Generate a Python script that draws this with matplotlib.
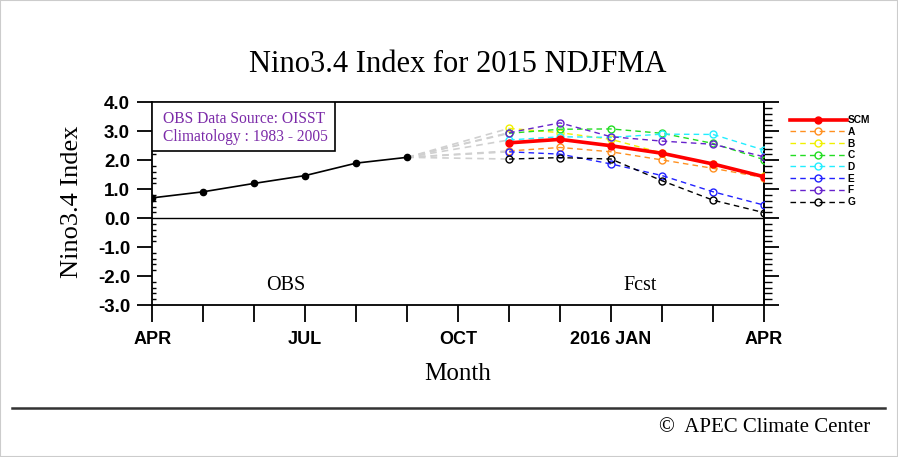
import matplotlib
matplotlib.use("Agg")
import matplotlib.pyplot as plt
from matplotlib.lines import Line2D
from matplotlib.patches import Rectangle
from matplotlib.ticker import MultipleLocator

# month index 0 = APR 2015 ... 12 = APR 2016
obs_months = [0, 1, 2, 3, 4, 5]
obs_values = [0.70, 0.91, 1.20, 1.47, 1.90, 2.10]

fcst_months = [7, 8, 9, 10, 11, 12]
models = ["SCM", "A", "B", "C", "D", "E", "F", "G"]
model_colors = ["#ff0000", "#ff9020", "#f0f000", "#22dd22", "#22eeff",
                "#2222ff", "#6622cc", "#000000"]
scm = [2.60, 2.72, 2.50, 2.24, 1.87, 1.43]
fcst_a = [2.32, 2.44, 2.29, 2.01, 1.72, 1.40]
fcst_b = [3.10, 2.95, 2.72, 2.25, 1.88, 1.45]
fcst_c = [2.93, 3.07, 3.08, 2.93, 2.58, 2.02]
fcst_d = [2.70, 2.81, 2.79, 2.90, 2.89, 2.35]
fcst_e = [2.29, 2.21, 1.87, 1.47, 0.91, 0.45]
fcst_f = [2.95, 3.29, 2.81, 2.66, 2.55, 2.12]
fcst_g = [2.04, 2.09, 2.04, 1.29, 0.62, 0.19]
model_values = [scm, fcst_a, fcst_b, fcst_c, fcst_d, fcst_e, fcst_f, fcst_g]

xtick_pos = list(range(13))
xtick_labels = ["APR", "", "", "JUL", "", "", "OCT", "", "", "2016 JAN", "", "", "APR"]
ytick_pos = [-3, -2, -1, 0, 1, 2, 3, 4]
ytick_labels = ["-3.0", "-2.0", "-1.0", "0.0", "1.0", "2.0", "3.0", "4.0"]

SERIF = "Liberation Serif"
SANS = "Liberation Sans"
W, H = 898, 457

fig = plt.figure(figsize=(W / 100, H / 100), dpi=100, facecolor="white")
x0, x1, y0, y1 = 152.3, 764.0, 102.3, 305.0
ax = fig.add_axes([x0 / W, 1 - y1 / H, (x1 - x0) / W, (y1 - y0) / H])

ax.set_xlim(0, 12)
ax.set_ylim(-3, 4)
ax.axhline(0, color="black", lw=1.0, zorder=1)

# grey connectors from last observation to each model's first month
for vals in model_values[1:]:
    ax.plot([obs_months[-1], fcst_months[0]], [obs_values[-1], vals[0]],
            color="#d0d0d0", lw=1.2, ls=(0, (4, 3)), zorder=2)

ax.plot(obs_months, obs_values, color="black", lw=1.2, marker="o",
        ms=4.5, zorder=5)

handles = []
for name, color, vals in zip(models, model_colors, model_values):
    if name == "SCM":
        line, = ax.plot(fcst_months, vals, color=color, lw=2.6, marker="o",
                        ms=5, zorder=6, label=name)
    else:
        line, = ax.plot(fcst_months, vals, color=color, lw=1.0,
                        ls=(0, (4, 3)), marker="o", ms=5, mfc="none",
                        mew=1.0, zorder=4, label=name)
    handles.append(line)

leg = ax.legend(handles=handles, loc="upper left",
                bbox_to_anchor=(1.0425, 0.937), frameon=False,
                borderpad=0, borderaxespad=0, handlelength=5.6,
                handletextpad=0.1, labelspacing=0.17, numpoints=1,
                prop={"family": SANS, "weight": "bold", "size": 7.3})

# ticks
ax.set_xticks(xtick_pos)
ax.set_xticklabels(xtick_labels, family=SANS, weight="bold", fontsize=13)
ax.tick_params(axis="x", which="major", direction="out", length=12,
               width=1.3, pad=7, top=False)
ax.set_yticks(ytick_pos)
ax.yaxis.set_minor_locator(MultipleLocator(0.2))
ax.set_yticklabels(ytick_labels, family=SANS, weight="bold", fontsize=13.5)
ax.tick_params(axis="y", which="major", direction="out", length=11,
               width=1.3, pad=5, right=False)
ax.tick_params(axis="y", which="minor", direction="in", length=3,
               width=1.0, right=False)
for sp in ax.spines.values():
    sp.set_linewidth(1.3)

sec = ax.secondary_yaxis("right")
sec.set_yticks(ytick_pos)
sec.yaxis.set_minor_locator(MultipleLocator(0.2))
sec.tick_params(which="major", direction="out", length=11, width=1.3,
                labelright=False)
sec.tick_params(which="minor", direction="out", length=5.5, width=1.0)
sec.spines["right"].set_linewidth(1.3)

# annotations inside the plot
ax.text(2.62, -2.32, "OBS", family=SERIF, fontsize=14.5,
        ha="center", va="center")
ax.text(9.57, -2.32, "Fcst", family=SERIF, fontsize=14.5,
        ha="center", va="center")

ax.add_patch(Rectangle((0, 1 - 0.240), 0.299, 0.240, transform=ax.transAxes,
                       fill=True, facecolor="white", edgecolor="black",
                       lw=1.2, zorder=7))
ax.text(0.017, 0.957, "OBS Data Source: OISST\nClimatology : 1983 - 2005",
        transform=ax.transAxes, family=SERIF, fontsize=11.2, color="#7b2aa8",
        ha="left", va="top", linespacing=1.15, zorder=8)

# titles
fig.text(458 / W, 1 - 65 / H, "Nino3.4 Index for 2015 NDJFMA", family=SERIF,
         fontsize=22, ha="center", va="center")
fig.text(72 / W, 1 - 202 / H, "Nino3.4 Index", family=SERIF, fontsize=19,
         rotation=90, ha="center", va="center")
fig.text(458 / W, 1 - 374 / H, "Month", family=SERIF, fontsize=18,
         ha="center", va="center")

# footer
fig.add_artist(Line2D([12 / W, 885 / W], [1 - 408 / H, 1 - 408 / H],
                      color="#333333", lw=1.8))
fig.text(870 / W, 1 - 428 / H, "\u00a9  APEC Climate Center", family=SERIF,
         fontsize=15, ha="right", va="center")
fig.add_artist(Rectangle((0, 0), 1, 1, transform=fig.transFigure,
                         fill=False, edgecolor="#cccccc", lw=1.5))

fig.savefig("out.png", dpi=100, facecolor="white")
